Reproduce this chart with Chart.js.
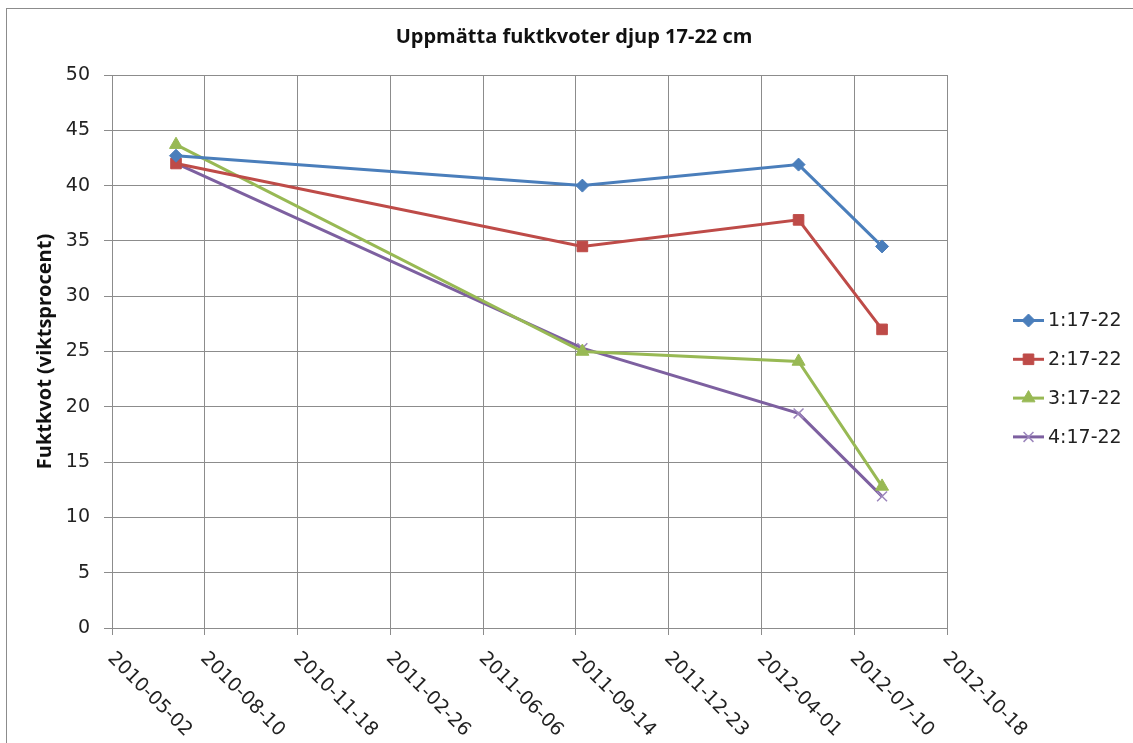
<!DOCTYPE html>
<html>
<head>
<meta charset="utf-8">
<script src="https://cdn.jsdelivr.net/npm/chart.js@4"></script>
<style>
html,body{margin:0;padding:0;background:#fff;}
#wrap{position:relative;width:1133px;height:743px;}
</style>
</head>
<body>
<div id="wrap"><canvas id="c" width="1133" height="743"></canvas></div>
<script>
// ---- data ----
const chartTitle = 'Uppmätta fuktkvoter djup 17-22 cm';
const yAxisTitle = 'Fuktkvot (viktsprocent)';
const seriesNames = ['1:17-22', '2:17-22', '3:17-22', '4:17-22'];
const sampleDates = ['2010-07-10', '2011-09-21', '2012-05-11', '2012-08-09'];
const series1 = [42.7, 40.0, 41.9, 34.5];
const series2 = [42.0, 34.5, 36.9, 27.0];
const series3 = [43.7, 25.0, 24.1, 12.8];
const series4 = [42.0, 25.3, 19.4, 11.9];
const xTickLabels = ['2010-05-02','2010-08-10','2010-11-18','2011-02-26','2011-06-06','2011-09-14','2011-12-23','2012-04-01','2012-07-10','2012-10-18'];
const yTickValues = [0,5,10,15,20,25,30,35,40,45,50];

// Excel-style serial date (days since 1899-12-30)
function toSerial(s){
  const p = s.split('-').map(Number);
  return Math.round((Date.UTC(p[0],p[1]-1,p[2]) - Date.UTC(1899,11,30))/86400000);
}
const xMin = toSerial(xTickLabels[0]);
const xMax = toSerial(xTickLabels[xTickLabels.length-1]);
const xStep = toSerial(xTickLabels[1]) - xMin;

const colors = ['#4A7EBB', '#BE4B48', '#98B954', '#7D60A0'];
const styles = ['rectRot', 'rect', 'triangle', 'crossRot'];
const radii = [6.5, 7.5, 7.5, 7];
const allValues = [series1, series2, series3, series4];

const FONT = "'DejaVu Sans', sans-serif";
const BFONT = "'Open Sans', 'DejaVu Sans', sans-serif";

const datasets = allValues.map((vals, i) => ({
  label: seriesNames[i],
  data: vals.map((v, j) => ({x: toSerial(sampleDates[j]), y: v})),
  borderColor: colors[i],
  backgroundColor: colors[i],
  borderWidth: 3,
  pointStyle: styles[i],
  pointRadius: radii[i],
  pointHoverRadius: radii[i],
  pointBorderWidth: styles[i] === 'crossRot' ? 1.5 : 1,
  pointBorderColor: styles[i] === 'crossRot' ? '#9C86BC' : colors[i],
  tension: 0
}));

const decor = {
  id: 'decor',
  beforeDraw(chart){
    const ctx = chart.ctx;
    ctx.save();
    ctx.fillStyle = '#fff';
    ctx.fillRect(0,0,chart.width,chart.height);
    ctx.strokeStyle = '#8c8c8c';
    ctx.lineWidth = 1;
    ctx.strokeRect(6.5, 8.5, 1300, 900);
    ctx.restore();
  },
  afterDraw(chart){
    const ctx = chart.ctx;
    const xs = chart.scales.x;
    ctx.save();
    // title
    ctx.fillStyle = '#111';
    ctx.font = "bold 20px " + BFONT;
    ctx.textAlign = 'center';
    ctx.textBaseline = 'middle';
    ctx.fillText(chartTitle, 574, 37);
    // rotated x tick labels
    ctx.fillStyle = '#222';
    ctx.font = "19px " + FONT;
    ctx.textAlign = 'left';
    ctx.textBaseline = 'middle';
    xs.ticks.forEach((t, i) => {
      const px = xs.getPixelForValue(t.value);
      ctx.save();
      ctx.translate(px, xs.top + 29);
      ctx.rotate(Math.PI/4);
      ctx.fillText(xTickLabels[i] !== undefined ? xTickLabels[i] : '', -2, 0);
      ctx.restore();
    });
    // legend
    const lx = 1013, ly0 = 320.5, dy = 38.8;
    chart.data.datasets.forEach((ds, i) => {
      const y = ly0 + i*dy;
      ctx.strokeStyle = ds.borderColor;
      ctx.lineWidth = 3;
      ctx.beginPath();
      ctx.moveTo(lx, y); ctx.lineTo(lx + 31, y);
      ctx.stroke();
      ctx.fillStyle = ds.backgroundColor;
      ctx.strokeStyle = ds.pointBorderColor;
      ctx.lineWidth = ds.pointBorderWidth;
      Chart.helpers.drawPoint(ctx, {pointStyle: ds.pointStyle, radius: ds.pointRadius, borderWidth: ds.pointBorderWidth, rotation: 0}, lx + 15.5, y);
      ctx.fillStyle = '#222';
      ctx.font = "19px " + FONT;
      ctx.fillText(ds.label, lx + 35, y + 1);
    });
    ctx.restore();
  }
};

new Chart(document.getElementById('c'), {
  type: 'line',
  data: { datasets },
  plugins: [decor],
  options: {
    responsive: false,
    animation: false,
    layout: { padding: { left: 0, right: 186, top: 75, bottom: 0 } },
    plugins: {
      legend: { display: false },
      tooltip: { enabled: false },
      title: { display: false }
    },
    scales: {
      x: {
        type: 'linear',
        min: xMin,
        max: xMax,
        ticks: { display: false, stepSize: xStep },
        grid: { color: '#8c8c8c', lineWidth: 1, tickLength: 7, drawTicks: true },
        border: { color: '#8c8c8c', width: 1 },
        afterFit(scale){ scale.height = 115; }
      },
      y: {
        type: 'linear',
        min: yTickValues[0],
        max: yTickValues[yTickValues.length-1],
        ticks: {
          stepSize: yTickValues[1] - yTickValues[0],
          color: '#222',
          padding: 14,
          font: { family: FONT, size: 19 }
        },
        grid: { color: '#8c8c8c', lineWidth: 1, tickLength: 8 },
        border: { color: '#8c8c8c', width: 1 },
        title: {
          display: true,
          text: yAxisTitle,
          color: '#111',
          font: { family: BFONT, size: 20, weight: 'bold' },
          padding: { top: 33, bottom: 0 }
        },
        afterFit(scale){ scale.width = 112; }
      }
    }
  }
});
</script>
</body>
</html>
